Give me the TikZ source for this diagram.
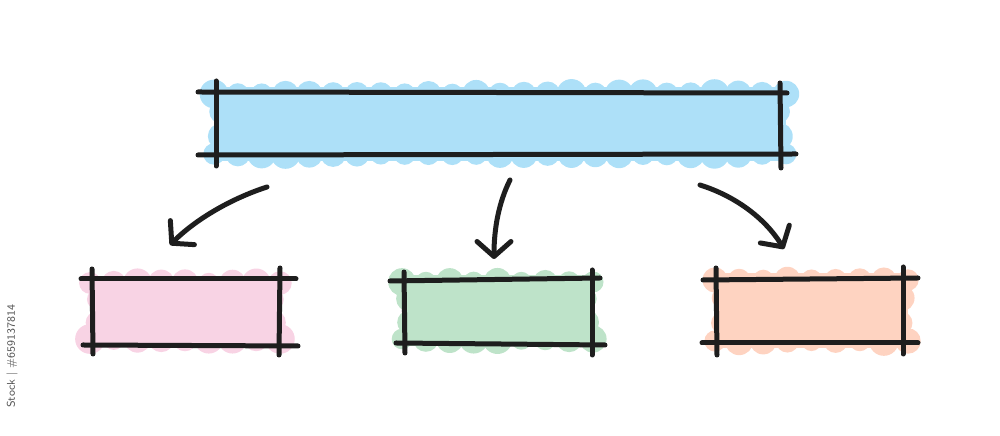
\documentclass[tikz,border=0pt]{standalone}
\usetikzlibrary{arrows.meta}
\definecolor{ink}{HTML}{1E1E1E}
\definecolor{skyfill}{HTML}{ADE0F8}
\definecolor{pinkfill}{HTML}{F8D3E4}
\definecolor{greenfill}{HTML}{BEE3C9}
\definecolor{peachfill}{HTML}{FED3C1}
\definecolor{markgray}{HTML}{555555}
\newcommand\mycloud[6]{%
  \fill[#1] (#2,#3) rectangle (#4,#5);
  \pgfmathtruncatemacro\nn{(#4-#2)/23}
  \foreach \i in {0,...,\nn}{
    \pgfmathsetmacro\rr{#6+7+rnd*5}
    \pgfmathsetmacro\xx{#2+(\i/\nn)*(#4-#2)}
    \fill[#1] (\xx,#3+7) circle[radius=\rr];
    \pgfmathsetmacro\rr{#6+7+rnd*5}
    \fill[#1] (\xx,#5-7) circle[radius=\rr];
  }
  \foreach \i in {1,2}{
    \pgfmathsetmacro\rr{#6+7+rnd*4}
    \pgfmathsetmacro\yy{#3+(\i/3)*(#5-#3)}
    \fill[#1] (#2+7,\yy) circle[radius=\rr];
    \pgfmathsetmacro\rr{#6+7+rnd*4}
    \fill[#1] (#4-7,\yy) circle[radius=\rr];
  }%
}
\begin{document}
\begin{tikzpicture}[x=0.1mm,y=-0.1mm,
  inkline/.style={line width=0.5mm, draw=ink, line cap=round},
  arrowline/.style={inkline, -{Straight Barb[length=1.5mm,width=3.4mm,line cap=round,line join=round]}},
  boxname/.style={inner sep=0pt, draw=none}]
\useasboundingbox (0,0) rectangle (1000,436);
\pgfmathsetseed{7}

% fills
\mycloud{skyfill}{214}{87}{786}{161}{3}
\mycloud{pinkfill}{90}{276}{280}{346}{3}
\mycloud{greenfill}{402}{275}{593}{346}{3}
\mycloud{peachfill}{715}{273}{908}{348}{3}

% named box nodes
\node[boxname, minimum width=56.4mm, minimum height=6.3mm] (topbox) at (498,123) {};
\node[boxname, minimum width=18.8mm, minimum height=6.6mm] (leftbox) at (186,312) {};
\node[boxname, minimum width=18.9mm, minimum height=6.5mm] (midbox) at (497,311) {};
\node[boxname, minimum width=18.7mm, minimum height=6.4mm] (rightbox) at (810,311) {};

% top box lines
\draw[inkline] (198,92) -- (787,93);
\draw[inkline] (198,155) -- (796,154);
\draw[inkline] (216,81) -- (216,166);
\draw[inkline] (780,83) -- (781,168);

% left box lines
\draw[inkline] (81,279) -- (296,279);
\draw[inkline] (83,345) -- (298,346);
\draw[inkline] (92,269) -- (93,354);
\draw[inkline] (280,268) -- (279,355);

% middle box lines
\draw[inkline] (390,281) -- (600,278);
\draw[inkline] (396,343) -- (605,345);
\draw[inkline] (404,272) -- (405,353);
\draw[inkline] (592,270) -- (592,355);

% right box lines
\draw[inkline] (703,280) -- (918,278);
\draw[inkline] (702,343) -- (918,343);
\draw[inkline] (716,268) -- (717,355);
\draw[inkline] (903,267) -- (903,354);

% arrows
\coordinate (a1s) at (267,187);
\coordinate (a1e) at (170,245);
\coordinate (a2s) at (510,180);
\coordinate (a2e) at (494,259);
\coordinate (a3s) at (700,185);
\coordinate (a3e) at (784,249);
\draw[arrowline] (a1s) .. controls (230,199) and (195,220) .. (a1e);
\draw[arrowline] (a2s) .. controls (499,202) and (494,228) .. (a2e);
\draw[arrowline] (a3s) .. controls (735,196) and (765,218) .. (a3e);

% side mark
\node[rotate=90, text=markgray, inner sep=0pt, font=\sffamily\fontsize{3.2}{4}\selectfont] (mark) at (12,356) {Stock | \#659137814};
\end{tikzpicture}
\end{document}
